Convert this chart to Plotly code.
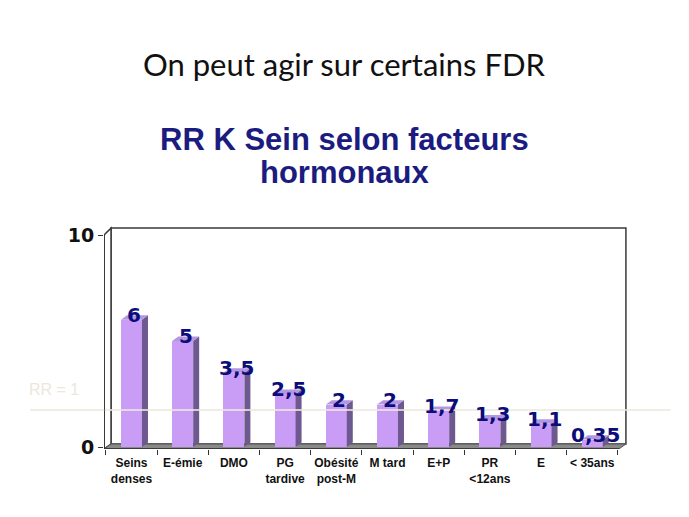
import plotly.graph_objects as go

# Relative risk of breast cancer by hormonal factor
categories = ["Seins<br>denses", "E-émie", "DMO", "PG<br>tardive", "Obésité<br>post-M",
              "M tard", "E+P", "PR<br>&lt;12ans", "E", "&lt; 35ans"]
rr_values = [6, 5, 3.5, 2.5, 2, 2, 1.7, 1.3, 1.1, 0.35]
rr_labels = ["6", "5", "3,5", "2,5", "2", "2", "1,7", "1,3", "1,1", "0,35"]
y_ticks = [0, 10]

# 3D look parameters (axis units)
BAR_W = 0.41
DX, DY = 0.117, 0.21          # bar depth offset
WX, WY = 0.137, 0.236         # wall depth offset

FRONT = "#c99cf6"
SIDE = "#6e5890"
TOP = "#b497e2"
NAVY = "#0c0c7a"

n = len(categories)
xs = list(range(n))

fig = go.Figure()

# front faces
fig.add_trace(go.Bar(x=xs, y=rr_values, width=BAR_W, marker=dict(color=FRONT, line=dict(width=0)),
                     hoverinfo="skip", showlegend=False))

# side and top faces as closed polygons
side_x, side_y, top_x, top_y = [], [], [], []
for i, v in zip(xs, rr_values):
    r = i + BAR_W / 2
    l = i - BAR_W / 2
    side_x += [r, r, r + DX, r + DX, r, None]
    side_y += [0, v, v + DY, DY, 0, None]
    top_x += [l, r, r + DX, l + DX, l, None]
    top_y += [v, v, v + DY, v + DY, v, None]
fig.add_trace(go.Scatter(x=side_x, y=side_y, fill="toself", fillcolor=SIDE, mode="lines",
                         line=dict(width=0, color=SIDE), hoverinfo="skip", showlegend=False))
fig.add_trace(go.Scatter(x=top_x, y=top_y, fill="toself", fillcolor=TOP, mode="lines",
                         line=dict(width=0, color=TOP), hoverinfo="skip", showlegend=False))

# value labels
for i, v, t in zip(xs, rr_values, rr_labels):
    fig.add_annotation(x=i, y=v, text=t, showarrow=False, yanchor="bottom", xshift=3, yshift=-9,
                       font=dict(family="DejaVu Sans", size=20, color=NAVY, weight="bold"))

x_lo, x_hi = -0.537, 9.678
y_lo, y_hi = -0.094, 10.425
front_r = 9.52
y_front_top = 10.0

# walls and floor
fig.add_shape(type="rect", xref="x", yref="y", x0=x_lo + WX, x1=front_r + WX, y0=y_lo + WY,
              y1=y_front_top + WY + 0.09, fillcolor="white", line=dict(color="#3a3a3a", width=1.5),
              layer="below")
fig.add_shape(type="path", xref="x", yref="y",
              path=f"M {x_lo},{y_lo} L {x_lo},{y_front_top} L {x_lo + WX},{y_front_top + WY + 0.09} "
                   f"L {x_lo + WX},{y_lo + WY} Z",
              fillcolor="white", line=dict(color="#3a3a3a", width=1.5), layer="below")
fig.add_shape(type="path", xref="x", yref="y",
              path=f"M {x_lo},{y_lo} L {front_r},{y_lo} L {front_r + WX},{y_lo + WY} "
                   f"L {x_lo + WX},{y_lo + WY} Z",
              fillcolor="#8a8a8a", line=dict(color="#555555", width=1), layer="below")

# RR = 1 reference mark
fig.add_shape(type="line", xref="paper", yref="paper", x0=-0.141, x1=1.083, y0=0.175, y1=0.175,
              line=dict(color="rgba(236,232,222,0.8)", width=2), layer="above")
fig.add_annotation(xref="paper", yref="paper", x=-0.148, y=0.269, text="RR = 1", showarrow=False,
                   xanchor="left", yanchor="middle",
                   font=dict(family="Liberation Sans", size=16, color="#ebe7dd"))

# slide headings
fig.add_annotation(xref="paper", yref="paper", x=0.4608, y=1.726, text="On peut agir sur certains FDR",
                   showarrow=False, xanchor="center", yanchor="middle",
                   font=dict(family="Lato", size=31, color="#111111"))
fig.add_annotation(xref="paper", yref="paper", x=0.4608, y=1.3857, text="RR K Sein selon facteurs",
                   showarrow=False, xanchor="center", yanchor="middle",
                   font=dict(family="Liberation Sans", size=31, color="#1c1c80", weight="bold"))
fig.add_annotation(xref="paper", yref="paper", x=0.4608, y=1.2377, text="hormonaux",
                   showarrow=False, xanchor="center", yanchor="middle",
                   font=dict(family="Liberation Sans", size=31, color="#1c1c80", weight="bold"))

fig.update_layout(
    width=689, height=517,
    margin=dict(l=104, r=62, t=226, b=68),
    paper_bgcolor="white", plot_bgcolor="rgba(0,0,0,0)",
    bargap=0,
    xaxis=dict(range=[x_lo, x_hi], tickvals=xs, ticktext=categories, ticks="", showgrid=False,
               zeroline=False, showline=False, ticklabelstandoff=5,
               tickfont=dict(family="Liberation Sans", size=12, color="#111111", weight="bold"),
               minor=dict(tickvals=[k - 0.5 for k in range(n + 1)], ticks="outside", ticklen=5,
                          tickcolor="#333333", showgrid=False)),
    yaxis=dict(range=[y_lo, y_hi], tickvals=y_ticks, ticktext=[str(t) for t in y_ticks],
               ticks="outside", ticklen=5, tickcolor="#333333", showgrid=False, zeroline=False,
               showline=False,
               tickfont=dict(family="DejaVu Sans", size=19, color="#111111", weight="bold")),
)
# front axis lines
fig.add_shape(type="line", xref="x", yref="y", x0=x_lo, x1=x_lo, y0=y_lo, y1=y_front_top,
              line=dict(color="#2a2a2a", width=1.5))
fig.add_shape(type="line", xref="x", yref="y", x0=x_lo, x1=front_r, y0=y_lo, y1=y_lo,
              line=dict(color="#2a2a2a", width=1.5))

fig.write_html("out.html")
